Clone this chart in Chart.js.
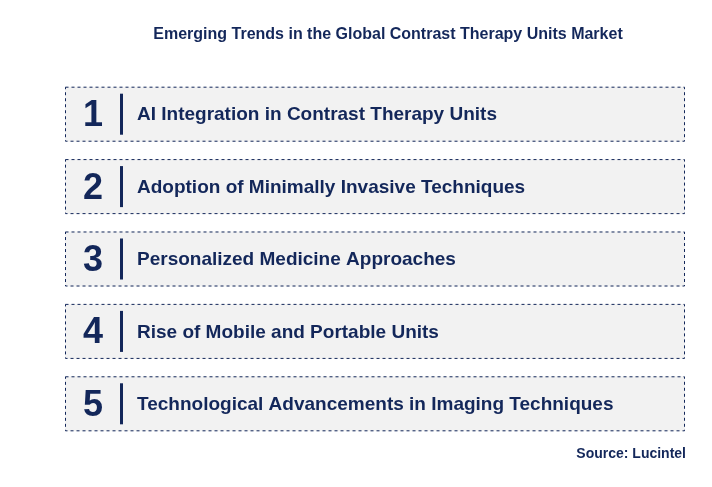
<!DOCTYPE html>
<html>
<head>
<meta charset="utf-8">
<script src="https://cdn.jsdelivr.net/npm/chart.js@4"></script>
<style>
  body { margin: 0; background: #fff; }
  #wrap { width: 712px; height: 487px; }
</style>
</head>
<body>
<div id="wrap"><canvas id="chart"></canvas></div>
<script>
const title = 'Emerging Trends in the Global Contrast Therapy Units Market';
const ranks = ['1', '2', '3', '4', '5'];
const trends = [
  'AI Integration in Contrast Therapy Units',
  'Adoption of Minimally Invasive Techniques',
  'Personalized Medicine Approaches',
  'Rise of Mobile and Portable Units',
  'Technological Advancements in Imaging Techniques'
];
const values = [1, 1, 1, 1, 1];
const source = 'Source: Lucintel';

const navy = '#13275a';

// draws the dashed boxes, numbers, dividers and labels on top of the bars
const cardPlugin = {
  id: 'cards',
  afterDatasetsDraw(chart) {
    const ctx = chart.ctx;
    const bars = chart.getDatasetMeta(0).data;
    ctx.save();
    bars.forEach((bar, i) => {
      const top = bar.y - bar.height / 2;
      const left = bar.base;
      const w = bar.x - bar.base;
      ctx.setLineDash([3, 3]);
      ctx.strokeStyle = navy;
      ctx.lineWidth = 1;
      ctx.strokeRect(left + 0.5, top + 0.5, w - 1, bar.height - 1);
      ctx.setLineDash([]);
      ctx.fillStyle = navy;
      ctx.font = 'bold 36px "Liberation Sans", Arial, sans-serif';
      ctx.textAlign = 'center';
      ctx.textBaseline = 'middle';
      ctx.fillText(ranks[i], left + 28, bar.y + 2);
      ctx.fillRect(left + 55, top + 7, 3, bar.height - 14);
      ctx.font = 'bold 19px "Liberation Sans", Arial, sans-serif';
      ctx.textAlign = 'left';
      ctx.fillText(trends[i], left + 72, bar.y + 1);
    });
    ctx.fillStyle = navy;
    ctx.font = 'bold 16px "Liberation Sans", Arial, sans-serif';
    ctx.textAlign = 'center';
    ctx.fillText(title, 388, 35);
    ctx.textAlign = 'right';
    ctx.font = 'bold 14px "Liberation Sans", Arial, sans-serif';
    ctx.fillText(source, 686, 454);
    ctx.restore();
  }
};

new Chart(document.getElementById('chart'), {
  type: 'bar',
  data: {
    labels: trends,
    datasets: [{
      data: values,
      backgroundColor: '#f2f2f2',
      borderWidth: 0,
      barPercentage: 0.76,
      categoryPercentage: 1
    }]
  },
  options: {
    indexAxis: 'y',
    responsive: true,
    maintainAspectRatio: false,
    animation: false,
    layout: { padding: { left: 65, right: 27, top: 78, bottom: 47 } },
    scales: {
      x: { display: false, min: 0, max: 1 },
      y: { display: false }
    },
    plugins: {
      legend: { display: false },
      tooltip: { enabled: false }
    }
  },
  plugins: [cardPlugin]
});
</script>
</body>
</html>
